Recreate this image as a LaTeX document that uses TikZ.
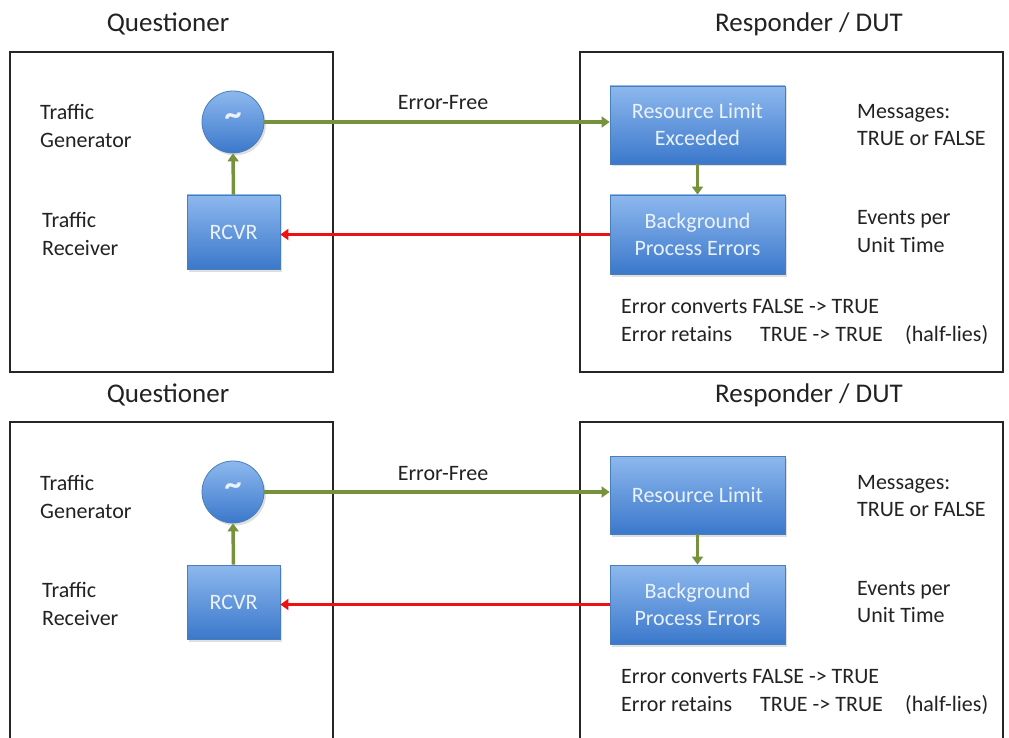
\documentclass[tikz,border=0pt]{standalone}
\usepackage{fontspec}
\setmainfont{Carlito}
\usetikzlibrary{arrows.meta,shadows}
\definecolor{boxtop}{HTML}{8DB8EE}
\definecolor{boxbot}{HTML}{3B78CB}
\definecolor{boxline}{HTML}{4A7EBB}
\definecolor{grn}{HTML}{76923C}
\definecolor{rd}{HTML}{EE1111}
\definecolor{txt}{HTML}{222222}
\definecolor{boxtxt}{HTML}{EAF2FC}
\newcommand\bodyfont{\fontsize{22}{27}\selectfont}
\newcommand\headfont{\fontsize{27}{32}\selectfont}
\tikzset{
  frame/.style={draw=black!85, line width=2pt},
  bluebox/.style={draw=boxline, line width=0.8pt, top color=boxtop, bottom color=boxbot,
    text=boxtxt, align=center, font=\bodyfont, inner sep=0pt,
    drop shadow={shadow xshift=2pt, shadow yshift=-2.5pt, opacity=0.25}},
  gencircle/.style={circle, draw=boxline, line width=0.8pt, top color=boxtop, bottom color=boxbot,
    minimum size=62pt, inner sep=0pt, text=boxtxt, font=\fontsize{34}{34}\selectfont\bfseries,
    drop shadow={shadow xshift=2pt, shadow yshift=-2.5pt, opacity=0.25}},
  lbl/.style={anchor=base west, inner sep=0pt, text=txt, font=\bodyfont},
  clbl/.style={anchor=base, inner sep=0pt, text=txt, font=\bodyfont},
  head/.style={anchor=base, inner sep=0pt, text=txt, font=\headfont},
  garrow/.style={draw=grn, line width=3.5pt, -{Triangle[length=8pt,width=11pt]}},
  rarrow/.style={draw=rd, line width=3.2pt, -{Triangle[length=8pt,width=11pt]}},
}
\newcommand\drawpanel[3]{%
\begin{scope}[shift={(0,#2)}]
  \node[head] (q#1) at (168,32) {Questioner};
  \node[head] (r#1) at (809,32) {Responder / DUT};
  \draw[frame] (10,52) rectangle (333,372);
  \draw[frame] (580,52) rectangle (1003,372);
  \node[gencircle] (gen#1) at (233,122) {\raisebox{5pt}{\textasciitilde}};
  \node[bluebox, minimum width=93pt, minimum height=74pt] (rcvr#1) at (233.5,232) {RCVR};
  \node[bluebox, minimum width=175pt, minimum height=78pt] (res#1) at (697.5,125) {#3};
  \node[bluebox, minimum width=175pt, minimum height=79pt] (bg#1) at (697.5,234.5) {Background\\Process Errors};
  \node[lbl] (t1#1) at (40,120) {Traffic};
  \node[lbl] (t2#1) at (40,148) {Generator};
  \node[lbl] (t3#1) at (42,227) {Traffic};
  \node[lbl] (t4#1) at (42,255) {Receiver};
  \node[lbl] (m1#1) at (857,119) {Messages:};
  \node[lbl] (m2#1) at (857,146) {TRUE or FALSE};
  \node[lbl] (e1#1) at (857,225) {Events per};
  \node[lbl] (e2#1) at (857,252) {Unit Time};
  \node[lbl] (c1#1) at (621,313) {Error converts FALSE -> TRUE};
  \node[lbl] (c2#1) at (621,341) {Error retains};
  \node[lbl] (c3#1) at (760,341) {TRUE -> TRUE};
  \node[lbl] (c4#1) at (905,341) {(half-lies)};
  \node[clbl] (ef#1) at (443,110) {Error-Free};
  \coordinate (ga#1) at (gen#1.east -| res#1.west);
  \coordinate (ra#1) at (bg#1.west -| rcvr#1.east);
  \draw[garrow] (gen#1.east) -- (ga#1);
  \draw[garrow] (rcvr#1.north) -- (gen#1.south);
  \draw[garrow] (res#1.south) -- (bg#1.north);
  \draw[rarrow] (bg#1.west) -- (ra#1);
\end{scope}}
\begin{document}
\begin{tikzpicture}[x=1pt,y=-1pt]
  \useasboundingbox (0,0) rectangle (1009,738);
  \clip (0,0) rectangle (1009,738);
  \fill[white] (0,0) rectangle (1009,738);
  \drawpanel{a}{0}{Resource Limit\\Exceeded}
  \drawpanel{b}{370}{Resource Limit}
\end{tikzpicture}
\end{document}
